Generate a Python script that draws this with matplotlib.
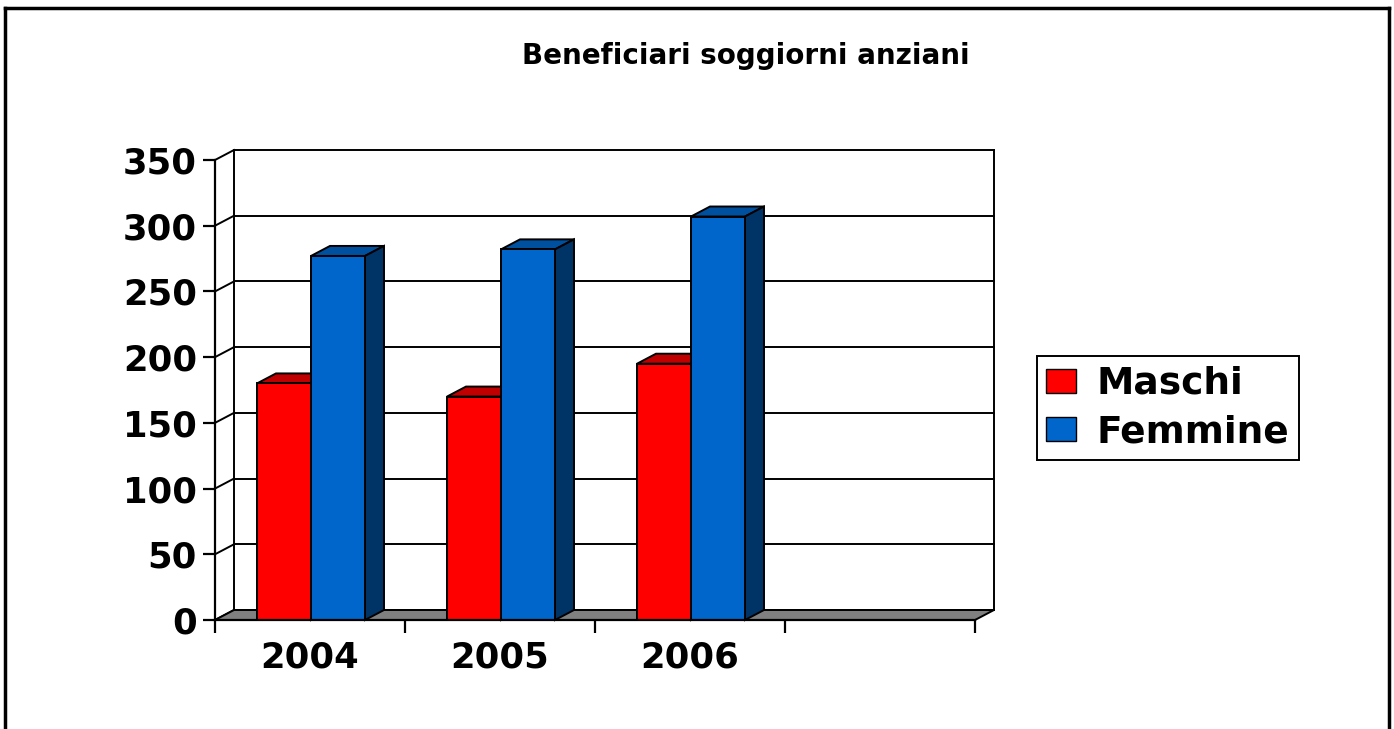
import matplotlib
matplotlib.use("Agg")
import matplotlib.pyplot as plt
from matplotlib.patches import Polygon, Rectangle
from matplotlib.lines import Line2D

# data (4th slot is empty in the original)
categories = ["2004", "2005", "2006", ""]
maschi = [180, 170, 195]
femmine = [277, 282, 307]
y_ticks = [0, 50, 100, 150, 200, 250, 300, 350]

RED, RED_TOP, RED_SIDE = "#FF0000", "#C00000", "#800000"
BLUE, BLUE_TOP, BLUE_SIDE = "#0066CC", "#0050A0", "#003366"
FLOOR = "#808080"

W, H = 1394, 729


def fx(px):
    return px / W


def fy(py):
    return 1 - py / H


fig = plt.figure(figsize=(W / 100, H / 100), dpi=100)
fig.patch.set_facecolor("white")

# front plane of the 3d plot
ax = fig.add_axes([fx(215), fy(620), fx(975) - fx(215), fy(160) - fy(620)])
n = len(categories)
ax.set_xlim(0, n)
ax.set_ylim(0, 350)
ax.set_facecolor("none")

# depth offset of the back wall, in data units
DX = 19 / 190
DY = 10 * 350 / 460
lk = dict(color="black", lw=1.4, clip_on=False, solid_capstyle="projecting")

# back wall gridlines + side-wall diagonals
for v in y_ticks:
    ax.plot([DX, n + DX], [v + DY, v + DY], zorder=1, **lk)
    ax.plot([0, DX], [v, v + DY], zorder=1, **lk)
ax.plot([DX, DX], [DY, 350 + DY], zorder=1, **lk)
ax.plot([n + DX, n + DX], [DY, 350 + DY], zorder=1, **lk)

# floor
ax.add_patch(Polygon([(0, 0), (n, 0), (n + DX, DY), (DX, DY)], closed=True,
                     facecolor=FLOOR, edgecolor="black", lw=1.4, zorder=2, clip_on=False))

x = list(range(len(maschi)))
bw = 54 / 190
off_m = 42 / 190
b_m = ax.bar([i + off_m for i in x], maschi, width=bw, align="edge",
             color=RED, edgecolor="black", lw=1.4, label="Maschi", zorder=3)
b_f = ax.bar([i + off_m + bw for i in x], femmine, width=bw, align="edge",
             color=BLUE, edgecolor="black", lw=1.4, label="Femmine", zorder=3)


def add_3d(rect, top, side, z):
    x0, w, h = rect.get_x(), rect.get_width(), rect.get_height()
    x1 = x0 + w
    ax.add_patch(Polygon([(x0, h), (x1, h), (x1 + DX, h + DY), (x0 + DX, h + DY)],
                         closed=True, facecolor=top, edgecolor="black", lw=1.4,
                         zorder=z, clip_on=False))
    ax.add_patch(Polygon([(x1, 0), (x1 + DX, DY), (x1 + DX, h + DY), (x1, h)],
                         closed=True, facecolor=side, edgecolor="black", lw=1.4,
                         zorder=z, clip_on=False))


for i in x:
    add_3d(b_m[i], RED_TOP, RED_SIDE, 2.5)
    add_3d(b_f[i], BLUE_TOP, BLUE_SIDE, 3.5)
    b_m[i].set_zorder(2.6)
    b_f[i].set_zorder(3.6)

for s in ["top", "right"]:
    ax.spines[s].set_visible(False)
for s in ["left", "bottom"]:
    ax.spines[s].set_linewidth(1.6)
    ax.spines[s].set_zorder(5)

tick_font = dict(family="DejaVu Sans", weight="bold", size=25.5)
ax.set_yticks(y_ticks)
ax.set_yticklabels([str(v) for v in y_ticks], fontdict=tick_font)
ax.tick_params(axis="y", direction="out", length=9, width=1.6, pad=4)
ax.set_xticks(range(n + 1))
ax.set_xticklabels([""] * (n + 1))
ax.tick_params(axis="x", which="major", direction="out", length=9, width=1.6)
ax.set_xticks([i + 0.5 for i in range(n)], minor=True)
ax.set_xticklabels(categories, minor=True, fontdict=tick_font)
ax.tick_params(axis="x", which="minor", length=0, pad=15)

fig.text(fx(746), fy(56), "Beneficiari soggiorni anziani", ha="center", va="center",
         family="DejaVu Sans", weight="bold", size=20)

handles = [Rectangle((0, 0), 1, 1, facecolor=RED, edgecolor="black", lw=1),
           Rectangle((0, 0), 1, 1, facecolor=BLUE, edgecolor="black", lw=1)]
leg = fig.legend(handles, ["Maschi", "Femmine"], loc="center left",
                 bbox_to_anchor=(fx(1037), fy(408)), frameon=True, fancybox=False,
                 framealpha=1,
                 prop=dict(family="DejaVu Sans", weight="bold", size=27),
                 handlelength=0.8, handleheight=0.6, handletextpad=0.55,
                 borderpad=0.25, labelspacing=0.33, borderaxespad=0)
leg.get_frame().set_edgecolor("black")
leg.get_frame().set_linewidth(1.4)

# outer chart border (bottom edge is cut off in the original)
for xs, ys in [([5, 5], [8, 740]), ([5, 1389], [8, 8]), ([1389, 1389], [8, 740])]:
    fig.add_artist(Line2D([fx(a) for a in xs], [fy(b) for b in ys], color="black", lw=2.5))

fig.savefig("out.png", dpi=100)
